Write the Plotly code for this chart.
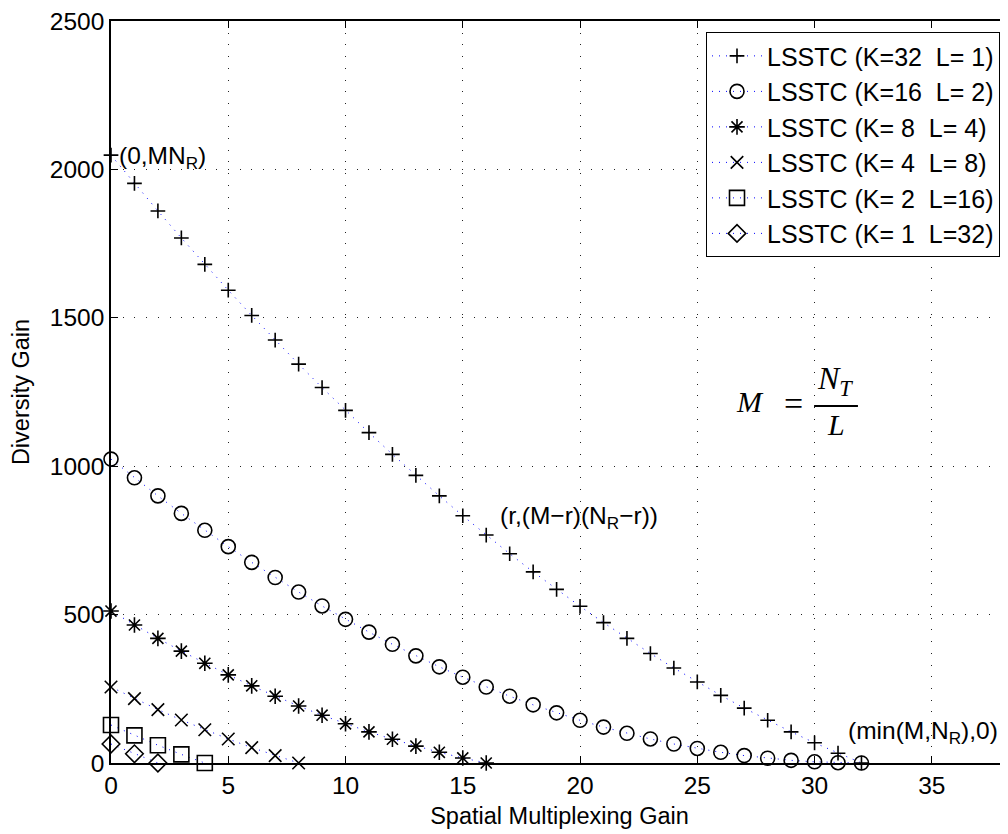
import plotly.graph_objects as go

# ---- data ----
r_k32 = list(range(0, 33))
d_k32 = [2048, 1953, 1860, 1769, 1680, 1593, 1508, 1425, 1344, 1265, 1188, 1113, 1040,
         969, 900, 833, 768, 705, 644, 585, 528, 473, 420, 369, 320, 273, 228, 185,
         144, 105, 68, 33, 0]
r_k16 = list(range(0, 33))
d_k16 = [1024, 961, 900, 841, 784, 729, 676, 625, 576, 529, 484, 441, 400, 361, 324,
         289, 256, 225, 196, 169, 144, 121, 100, 81, 64, 49, 36, 25, 16, 9, 4, 1, 0]
r_k8 = list(range(0, 17))
d_k8 = [512, 465, 420, 377, 336, 297, 260, 225, 192, 161, 132, 105, 80, 57, 36, 17, 0]
r_k4 = list(range(0, 9))
d_k4 = [256, 217, 180, 145, 112, 81, 52, 25, 0]
r_k2 = list(range(0, 5))
d_k2 = [128, 93, 60, 29, 0]
r_k1 = list(range(0, 3))
d_k1 = [64, 31, 0]

series_names = ["LSSTC (K=32  L= 1)", "LSSTC (K=16  L= 2)", "LSSTC (K= 8  L= 4)",
                "LSSTC (K= 4  L= 8)", "LSSTC (K= 2  L=16)", "LSSTC (K= 1  L=32)"]
series_x = [r_k32, r_k16, r_k8, r_k4, r_k2, r_k1]
series_y = [d_k32, d_k16, d_k8, d_k4, d_k2, d_k1]
symbols = ["cross-thin-open", "circle-open", "asterisk-open", "x-thin-open",
           "square-open", "diamond-open"]
sizes = [10.5, 14, 13, 12.5, 15, 13.5]

x_ticks = [0, 5, 10, 15, 20, 25, 30, 35]
y_ticks = [0, 500, 1000, 1500, 2000, 2500]

FONT = "Liberation Sans, Arial, Helvetica, sans-serif"
SERIF = "Liberation Serif, DejaVu Serif, serif"

# page has an 8px body margin: figure occupies page 8..1008 x 8..834
W, H = 1000, 826
L_M, T_M, B_M = 102.7, 13, 71.3
px_per_unit = 23.46
x_max = (W - L_M) / px_per_unit

fig = go.Figure()
for i, (name, xs, ys, sym, sz) in enumerate(zip(series_names, series_x, series_y, symbols, sizes)):
    fig.add_trace(go.Scatter(
        x=xs, y=ys, name=name, mode="lines+markers",
        legendgroup=f"g{i}",
        line=dict(color="#0000ff", width=1, dash="1px,6px"),
        marker=dict(symbol=sym, size=sz, color="black",
                    line=dict(color="black", width=1.6)),
        cliponaxis=False,
    ))

axis_common = dict(
    showline=True, linecolor="black", linewidth=1.5, mirror="ticks",
    ticks="inside", ticklen=7, tickcolor="black", tickwidth=1,
    showgrid=True, gridcolor="#222222", gridwidth=1, griddash="1px,10.7px",
    zeroline=False, tickfont=dict(family=FONT, size=24.5, color="black"),
    ticklabeloverflow="allow",
)

fig.update_xaxes(range=[0, x_max], tickvals=x_ticks, ticktext=[str(v) for v in x_ticks],
                 title=dict(text="Spatial Multiplexing Gain",
                            font=dict(family=FONT, size=23.5, color="black"), standoff=9),
                 automargin=False, **axis_common)
fig.update_yaxes(range=[0, 2500], tickvals=y_ticks, ticktext=[str(v) for v in y_ticks],
                 title=dict(text="Diversity Gain",
                            font=dict(family=FONT, size=23.5, color="black"), standoff=14),
                 automargin=False, **axis_common)

# annotations
ann_font = dict(family=FONT, size=24.5, color="black")
fig.add_annotation(x=0.25, y=2052, xref="x", yref="y", text="(0,MN<sub>R</sub>)",
                   showarrow=False, xanchor="left", yanchor="middle", font=ann_font, yshift=-4)
fig.add_annotation(x=16.5, y=840, xref="x", yref="y", text="(r,(M\u2212r)(N<sub>R</sub>\u2212r))",
                   showarrow=False, xanchor="left", yanchor="middle", font=ann_font, yshift=-4)
fig.add_annotation(x=31.35, y=116, xref="x", yref="y", text="(min(M,N<sub>R</sub>),0)",
                   showarrow=False, xanchor="left", yanchor="middle", font=ann_font, yshift=-4)

# formula M = N_T / L
math_font = dict(family=SERIF, size=30, color="black")
fig.add_annotation(x=27.25, y=1217, xref="x", yref="y", text="<i>M</i>",
                   showarrow=False, xanchor="center", yanchor="middle", font=math_font)
fig.add_annotation(x=29.1, y=1212, xref="x", yref="y", text="=",
                   showarrow=False, xanchor="center", yanchor="middle",
                   font=dict(family=SERIF, size=34, color="black"))
fig.add_annotation(x=30.85, y=1290, xref="x", yref="y", text="<i>N<sub>T</sub></i>",
                   showarrow=False, xanchor="center", yanchor="middle",
                   font=dict(family=SERIF, size=32, color="black"))
fig.add_annotation(x=30.9, y=1140, xref="x", yref="y", text="<i>L</i>",
                   showarrow=False, xanchor="center", yanchor="middle", font=math_font)
fig.add_shape(type="line", xref="x", yref="y", x0=29.98, x1=31.85, y0=1203, y1=1203,
              line=dict(color="black", width=2))

fig.update_layout(
    width=W, height=H,
    margin=dict(l=L_M, r=0, t=T_M, b=B_M, autoexpand=False),
    plot_bgcolor="white", paper_bgcolor="white",
    font=dict(family=FONT, size=25, color="black"),
    legend=dict(x=(992 - L_M) / (W - L_M), y=0.985, xanchor="right", yanchor="top",
                bgcolor="white", bordercolor="black", borderwidth=1,
                font=dict(family=FONT, size=25, color="black"),
                tracegroupgap=0, itemwidth=50),
    showlegend=True,
)

fig.write_html("out.html")
